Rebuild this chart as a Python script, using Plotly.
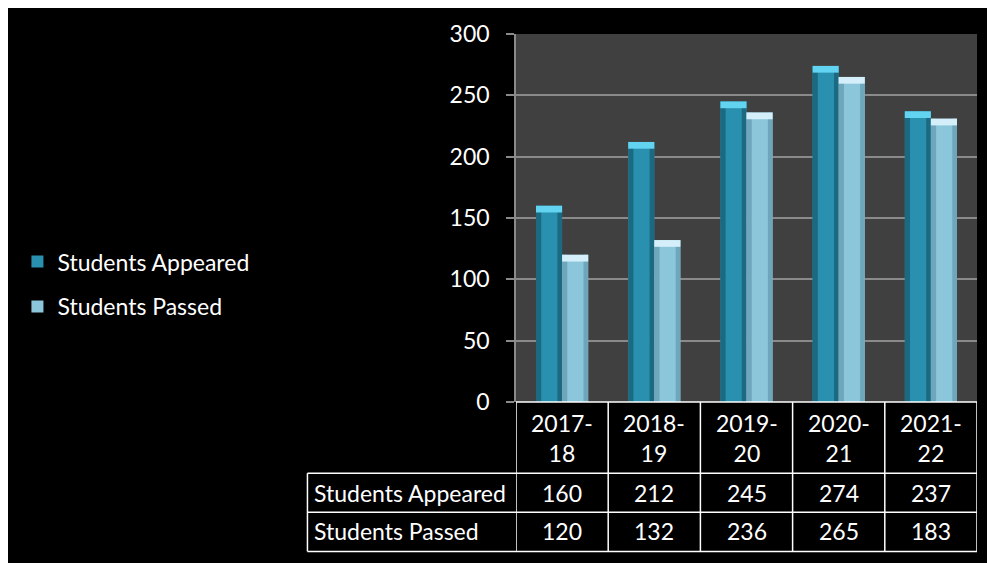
import plotly.graph_objects as go

# ---------------- data ----------------
categories = ["2017-18", "2018-19", "2019-20", "2020-21", "2021-22"]
header_labels = ["2017-<br>18", "2018-<br>19", "2019-<br>20", "2020-<br>21", "2021-<br>22"]
series_names = ["Students Appeared", "Students Passed"]
appeared = [160, 212, 245, 274, 237]
passed_bars = [120, 132, 236, 265, 231]      # bar heights as drawn
appeared_table = [160, 212, 245, 274, 237]   # values printed in the data table
passed_table = [120, 132, 236, 265, 183]
y_ticks = [0, 50, 100, 150, 200, 250, 300]

# ---------------- style ----------------
FONT = "Lato"
FS = 23
BW = 0.283
mid_colors = ["#2A90AF", "#8CC6DB"]
edge_colors = ["#1C6A82", "#6EA6BC"]
cap_colors = ["#62D4F2", "#D4EFF9"]
CAP = 5.5

fig = go.Figure()
for i, (name, vals) in enumerate(zip(series_names, [appeared, passed_bars])):
    off = -BW + i * BW
    fig.add_trace(go.Bar(x=categories, y=vals, name=name, offset=off, width=BW,
                         marker=dict(color=mid_colors[i], line=dict(width=0)),
                         legendgroup=name))
    fig.add_trace(go.Bar(x=categories, y=vals, offset=off, width=BW * 0.2,
                         marker=dict(color=edge_colors[i], line=dict(width=0)),
                         showlegend=False, hoverinfo="skip", legendgroup=name))
    fig.add_trace(go.Bar(x=categories, y=vals, offset=off + BW * 0.82, width=BW * 0.18,
                         marker=dict(color=edge_colors[i], line=dict(width=0)),
                         showlegend=False, hoverinfo="skip", legendgroup=name))
    fig.add_trace(go.Bar(x=categories, y=[CAP] * len(vals), base=[v - CAP for v in vals],
                         offset=off, width=BW,
                         marker=dict(color=cap_colors[i], line=dict(width=0)),
                         showlegend=False, hoverinfo="skip", legendgroup=name))

# table geometry (paper coords)
y_hdr_bot = -0.1935
y_row1_bot = -0.2997
y_row2_bot = -0.406
x_left = -0.4524
line = dict(color="white", width=1.5)
shapes = []
for k in range(len(categories) + 1):
    shapes.append(dict(type="line", xref="x", yref="paper", x0=-0.5 + k, x1=-0.5 + k,
                       y0=0, y1=y_row2_bot, line=line))
shapes.append(dict(type="line", xref="paper", yref="paper", x0=x_left, x1=x_left,
                   y0=y_hdr_bot, y1=y_row2_bot, line=line))
shapes.append(dict(type="line", xref="paper", yref="paper", x0=0, x1=1, y0=0, y1=0, line=line))
for yy in [y_hdr_bot, y_row1_bot, y_row2_bot]:
    shapes.append(dict(type="line", xref="paper", yref="paper", x0=x_left, x1=1,
                       y0=yy, y1=yy, line=line))

annotations = []
tf = dict(family=FONT, size=FS, color="white")
for c, h, a, p in zip(categories, header_labels, appeared_table, passed_table):
    annotations.append(dict(x=c, y=-0.098, xref="x", yref="paper", text=h, showarrow=False,
                            font=tf, yanchor="middle", xanchor="center"))
    annotations.append(dict(x=c, y=-0.248, xref="x", yref="paper", text=str(a), showarrow=False,
                            font=tf, yanchor="middle", xanchor="center"))
    annotations.append(dict(x=c, y=-0.3515, xref="x", yref="paper", text=str(p), showarrow=False,
                            font=tf, yanchor="middle", xanchor="center"))
for nm, yy in zip(series_names, [-0.248, -0.3515]):
    annotations.append(dict(x=-0.4416, y=yy, xref="paper", yref="paper", text=nm, showarrow=False,
                            font=tf, yanchor="middle", xanchor="left"))

fig.update_layout(
    width=995, height=563,
    margin=dict(l=507, r=26, t=26, b=169),
    paper_bgcolor="black", plot_bgcolor="#404040",
    barmode="overlay",
    font=dict(family=FONT, size=FS, color="white"),
    xaxis=dict(range=[-0.5, 4.5], showticklabels=False, showgrid=False, zeroline=False,
               showline=False, type="category", fixedrange=True),
    yaxis=dict(range=[0, 300], tickvals=y_ticks, gridcolor="#8A8A8A", gridwidth=1.5,
               showline=True, linecolor="#8A8A8A", linewidth=1.5, ticks="outside",
               ticklen=8, tickcolor="#8A8A8A", tickwidth=1.5,
               tickfont=dict(family=FONT, size=FS, color="white"),
               ticklabelstandoff=12, zeroline=False),
    legend=dict(x=-1.077, y=0.44, xanchor="left", yanchor="top",
                font=dict(family=FONT, size=FS, color="white"),
                bgcolor="rgba(0,0,0,0)", tracegroupgap=12),
    shapes=shapes, annotations=annotations,
    showlegend=True,
)

fig.write_html("out.html")
